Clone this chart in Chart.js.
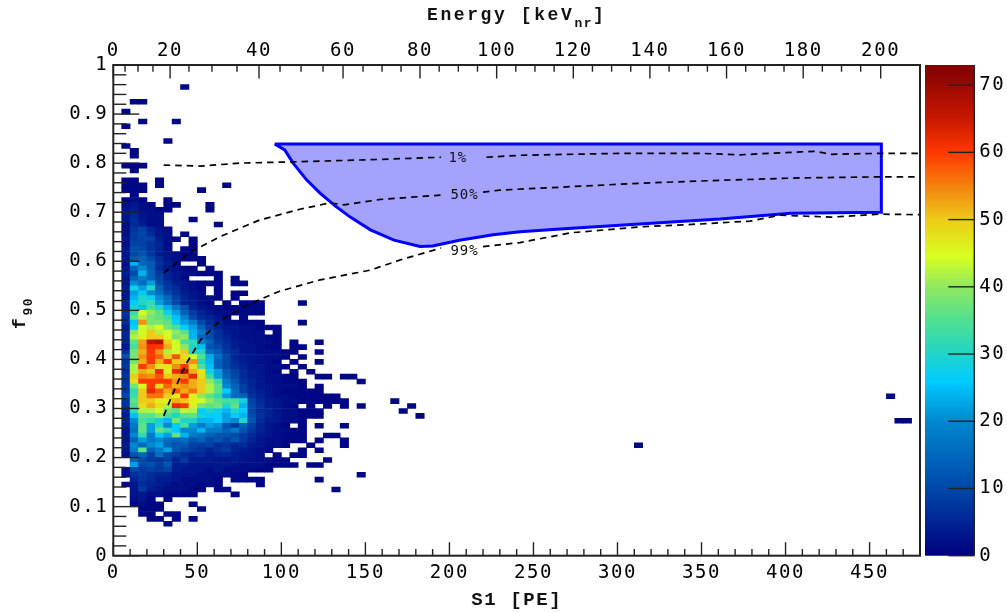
<!DOCTYPE html>
<html>
<head>
<meta charset="utf-8">
<title>f90 vs S1</title>
<script src="https://cdn.jsdelivr.net/npm/chart.js@4"></script>
<style>
  html, body { margin: 0; padding: 0; background: #fff; }
  canvas { position: absolute; left: 0; top: 0; filter: blur(0.45px); }
</style>
</head>
<body>
<canvas id="heat" width="1007" height="612"></canvas>
<canvas id="bar" width="1007" height="612"></canvas>
<script>
// lower edge of each f90 bin that has entries, top of the plot downwards
const fBins = [0.95,0.92,0.90,0.88,0.87,0.84,0.83,0.82,0.81,0.79,0.78,0.76,0.75,0.74,0.73,0.72,0.71,0.70,0.69,0.68,0.67,
  0.66,0.65,0.64,0.63,0.62,0.61,0.60,0.59,0.58,0.57,0.56,0.55,0.54,0.53,0.52,0.51,0.50,0.49,0.48,0.47,0.46,0.45,0.44,
  0.43,0.42,0.41,0.40,0.39,0.38,0.37,0.36,0.35,0.34,0.33,0.32,0.31,0.30,0.29,0.28,0.27,0.26,0.25,0.24,0.23,0.22,0.21,
  0.20,0.19,0.18,0.17,0.16,0.15,0.14,0.13,0.12,0.11,0.10,0.09,0.08,0.07,0.06];

// counts per row, first entry is the S1 bin 5-10 PE, then 5 PE steps
const binCounts = [
  [0,0,0,0,0,0,0,1],
  [0,1,1],
  [1],
  [0,0,1,0,0,0,1],
  [1],
  [0,0,0,0,0,1],
  [1],
  [0,1],
  [0,1],
  [1,1,1],
  [0,1],
  [1,1,0,0,1],
  [1,1,1,0,1,0,0,0,0,0,0,0,1],
  [1,1,1,0,0,0,0,0,0,1],
  [0,1],
  [1,2,1,0,0,1],
  [2,3,2,1,0,1,1,0,0,0,1],
  [3,4,2,2,1,1,0,0,0,0,1],
  [3,5,3,2,2],
  [3,6,3,2,2,0,0,0,1],
  [2,6,4,2,2,0,0,0,0,0,0,1],
  [2,7,9,5,3,2],
  [2,8,10,6,3,2,0,1],
  [3,8,9,9,4,2,1,0,1],
  [2,9,9,7,5,2,0,0,1],
  [3,11,10,7,5,2,0,1,1],
  [3,10,12,8,4,3,2,1,1],
  [3,12,14,10,6,3,2,1,1,1],
  [2,24,15,13,7,4,2,0,0,1],
  [3,14,20,13,6,3,2,1,1,0,1],
  [4,11,24,14,8,5,3,2,2,1,1,1],
  [3,14,18,14,9,5,3,1,0,0,0,1,0,1],
  [3,20,16,22,11,7,4,3,2,1,1,1,0,1,1],
  [4,28,22,30,14,8,6,3,2,1,0,1],
  [3,22,26,20,16,10,7,4,3,2,0,1,0,1,1],
  [3,24,30,27,20,15,9,5,3,2,2,1,0,1],
  [5,26,30,32,22,16,10,5,4,2,1,0,1,0,1,1,1,0,0,0,0,1],
  [5,30,25,34,30,23,17,11,5,3,2,2,1,1,1,1,1],
  [7,33,44,40,36,28,22,14,8,5,3,2,2,1,1,1,1],
  [6,36,42,38,36,33,25,19,10,6,5,3,1,0,1],
  [6,25,54,38,38,36,27,22,18,10,6,4,2,2,1,1,1,0,0,0,0,1],
  [4,27,44,42,45,38,34,26,22,14,8,5,3,3,2,2,1,1,1],
  [5,40,44,50,42,44,40,36,24,18,10,7,4,3,2,2,2,0,1],
  [5,42,46,50,50,45,38,40,24,14,11,7,5,3,2,2,2,1,1],
  [5,36,53,66,68,50,44,34,32,19,14,8,6,4,3,2,2,2,1,0,1,0,0,1],
  [3,34,54,61,60,52,44,40,30,25,12,10,7,4,3,3,2,1,1,0,1,1],
  [7,38,52,60,54,42,44,50,30,30,16,13,8,6,3,3,2,2,2,1,1,0,0,1],
  [11,38,54,60,57,50,58,48,44,35,23,16,10,5,4,3,3,2,2,1,0,1],
  [7,38,52,60,52,60,50,50,54,30,24,14,10,6,4,3,2,2,1,0,1,0,0,1],
  [8,42,60,54,47,47,54,60,48,35,25,14,10,7,5,3,3,2,2,1,0,1],
  [6,42,52,50,62,46,62,68,52,47,28,22,13,9,6,4,3,2,1,0,1,0,1],
  [7,50,55,54,58,50,52,54,62,48,33,22,14,10,6,4,3,2,2,1,1,0,0,1,1,0,1,1],
  [7,48,60,60,60,60,54,60,52,50,40,33,18,12,7,5,3,2,2,1,1,1,0,0,0,0,0,0,1],
  [8,38,45,60,48,57,52,54,52,50,42,36,20,14,9,5,3,3,2,2,2,1,0,1],
  [8,32,50,62,58,52,58,52,56,50,42,36,26,16,9,6,4,3,2,1,1,1,1,1],
  [10,33,50,56,56,50,46,60,46,40,36,32,22,16,14,7,5,3,2,2,1,1,1,1,1,1],
  [7,36,50,50,46,46,52,50,46,44,40,36,34,34,28,9,6,4,3,2,2,1,1,1,1,1,1],
  [7,34,48,52,48,42,62,60,46,38,36,38,30,36,24,10,7,4,3,2,1,0,1,0,1,0,1,0,1],
  [5,32,42,42,44,38,36,43,42,26,30,28,24,30,26,10,6,5,3,2,2,1,1,1],
  [4,25,36,36,40,34,30,36,36,28,26,26,22,26,24,11,7,5,3,2,2,1,1,1],
  [5,20,34,32,28,24,38,30,30,24,24,26,22,20,30,12,6,4,3,2,2,1],
  [4,18,36,22,30,20,26,34,22,18,22,20,12,8,14,9,5,3,2,1,0,1,0,1,0,0,1],
  [3,16,36,22,36,32,26,20,20,24,18,18,14,18,12,8,5,3,2,2,1,1],
  [3,20,32,18,26,22,36,24,18,16,14,12,12,10,8,6,4,3,2,1,1,1,0,0,1,1],
  [3,14,22,18,20,16,14,16,12,14,10,12,9,12,8,5,3,2,2,1,1,1,0,1,0,0,1],
  [4,20,15,20,22,14,12,12,9,8,9,6,7,5,6,4,3,2,2,1,0,0,1,0,0,0,1],
  [3,18,36,14,18,22,12,10,8,7,5,7,8,5,4,3,2,1,0,0,0,1,0,1],
  [2,12,14,9,16,10,8,6,5,6,4,5,5,4,3,3,2,0,1,0,1,1],
  [0,14,10,8,7,9,5,8,4,4,4,3,3,4,3,2,2,2,1,1,0,0,0,0,1],
  [0,22,10,11,8,12,4,4,3,3,3,3,3,3,2,2,2,1,1,1,1,0,1,1],
  [2,10,8,9,8,9,4,3,3,3,2,3,2,2,2,1,1,1],
  [2,7,8,6,5,5,3,3,3,2,2,2,2,1,1,0,0,0,0,0,0,0,0,0,0,0,0,0,1],
  [0,5,7,6,4,4,3,2,2,2,2,1,0,1,1,1,1,0,0,0,0,0,0,1],
  [1,3,6,5,4,3,2,2,2,1,2,1,0,0,0,0,1],
  [0,3,8,4,3,2,2,2,1,1,0,1,1,0,0,0,0,0,0,0,0,0,0,0,0,1],
  [0,3,3,2,2,1,1,1,1,0,0,0,0,1],
  [0,2,3,1,0,1],
  [0,1,2,1,1,0,0,0,1],
  [0,0,1,1,1,0,0,0,0,1],
  [0,0,1,1,0,1,1],
  [0,0,0,1,1,0,1,0,1],
  [0,0,0,0,0,1]
];

// isolated single entries at large S1 (lower bin edges)
const outlierS = [165,175,170,180,310,460,465,470];
const outlierF = [0.31,0.30,0.29,0.28,0.22,0.32,0.27,0.27];

// acceptance curves, null leaves room for the label
const curve1S = [30,52,75,111,153,195,208,222,242,302,349,373,409,418,427,456,480];
const curve1F = [0.796,0.794,0.80,0.803,0.807,0.812,null,0.812,0.816,0.82,0.82,0.817,0.823,0.824,0.818,0.82,0.82];
const curve50S = [30,46,64,87,111,129,137,159,195,208,220,230,266,313,361,409,456,480];
const curve50F = [0.576,0.619,0.651,0.684,0.706,0.719,0.715,0.726,0.735,null,0.741,0.745,0.751,0.759,0.765,0.77,0.772,0.772];
const curve99S = [30,35,43,52,64,81,99,123,153,171,195,208,220,242,272,313,349,379,397,427,456,480];
const curve99F = [0.285,0.327,0.389,0.44,0.48,0.513,0.539,0.562,0.582,0.603,0.627,null,0.63,0.638,0.658,0.67,0.676,0.682,0.694,0.69,0.696,0.695];

// blue acceptance region outline
const regionS = [96,102,107,115,123,132,141,153,167,182.5,190,206,226,242,266,313,361,403,457,457,96];
const regionF = [0.839,0.827,0.80,0.766,0.739,0.713,0.69,0.664,0.643,0.63,0.631,0.643,0.654,0.66,0.666,0.676,0.686,0.698,0.70,0.839,0.839];

// top axis: S1 position of every energy tick, every 5 keV
const energyTicksS = [0,7,14.7,23.6,33.8,45,58.7,73.6,86.7,99.2,111.7,124.8,136.7,148.6,159.9,171.2,182.5,193.9,205.3,
  216.7,228.1,239.5,250.9,262.3,273.7,285.1,296.5,307.9,319.3,330.7,342.1,353.5,364.9,376.3,387.7,399.1,410.5,421.9,
  433.3,444.7,456.6];
const energyLabels = ['0','20','40','60','80','100','120','140','160','180','200'];

const percentLabels = ['1%','50%','99%'];
const percentS = [205,209,209];
const percentF = [0.81,0.735,0.62];

// colour bar ticks and palette
const zTicks = [0,10,20,30,40,50,60,70];
const paletteZ = [0,10,20,26,30,35,40,44.5,50,54,60,65,73];
const paletteC = ['#000080','#0048a8','#0088d0','#00ccff','#20d4c8','#50e090','#90e860','#d8ff20','#eecb18','#f29010','#ff3800','#c81800','#800000'];

const tickFont = '"DejaVu Sans Mono"';
const titleFont = '"Liberation Mono"';
const ink = '#222';

function hexRgb(h) { return [1, 3, 5].map(p => parseInt(h.substr(p, 2), 16)); }

function zColor(z) {
  let j = 0;
  while (j < paletteZ.length - 2 && z > paletteZ[j + 1]) j++;
  const t = Math.min(1, (z - paletteZ[j]) / (paletteZ[j + 1] - paletteZ[j]));
  const a = hexRgb(paletteC[j]), b = hexRgb(paletteC[j + 1]);
  return 'rgb(' + a.map((v, n) => Math.round(v + (b[n] - v) * t)).join(',') + ')';
}

function pairs(xs, ys) { return xs.map((x, i) => ({ x: x, y: ys[i] })); }

// heatmap cells as floating bars
const cells = [], cellColors = [];
binCounts.forEach((row, r) => {
  row.forEach((n, i) => {
    if (n > 0) {
      cells.push({ x: 7.5 + 5 * i, y: [fBins[r], fBins[r] + 0.01] });
      cellColors.push(zColor(n));
    }
  });
});
outlierS.forEach((s, i) => {
  cells.push({ x: s + 2.5, y: [outlierF[i], outlierF[i] + 0.01] });
  cellColors.push(zColor(1));
});

function dashed(xs, ys) {
  return { type: 'line', data: pairs(xs, ys), borderColor: '#000', borderWidth: 1.7, borderDash: [6.5, 5], pointRadius: 0, fill: false, spanGaps: false, order: 0 };
}

function inwardTicks(ctx, scale, len, lenMinor, isMajor) {
  scale.ticks.forEach((t, i) => {
    const p = scale.getPixelForValue(t.value);
    const l = isMajor(t, i) ? len : lenMinor;
    ctx.beginPath();
    if (scale.axis === 'y') { ctx.moveTo(scale.right, p); ctx.lineTo(scale.right + l, p); }
    else if (scale.position === 'top') { ctx.moveTo(p, scale.bottom); ctx.lineTo(p, scale.bottom + l); }
    else { ctx.moveTo(p, scale.top); ctx.lineTo(p, scale.top - l); }
    ctx.stroke();
  });
}

function subText(ctx, x, y, main, sub, tail) {
  ctx.textAlign = 'left';
  ctx.textBaseline = 'alphabetic';
  ctx.font = 'bold 18px ' + titleFont;
  ctx.letterSpacing = '2.6px';
  ctx.fillText(main, x, y);
  let w = ctx.measureText(main).width;
  ctx.font = 'bold 13px ' + titleFont;
  ctx.letterSpacing = '1.5px';
  ctx.fillText(sub, x + w, y + 7);
  w += ctx.measureText(sub).width;
  if (tail) {
    ctx.font = 'bold 18px ' + titleFont;
    ctx.letterSpacing = '2.6px';
    ctx.fillText(tail, x + w, y);
  }
}

const decorate = {
  id: 'decorate',
  beforeDraw(chart) { chart.ctx.letterSpacing = '1.6px'; },
  afterDatasetsDraw(chart) {
    const ctx = chart.ctx, a = chart.chartArea, s = chart.scales;
    ctx.save();
    ctx.strokeStyle = ink;
    ctx.lineWidth = 1.4;
    inwardTicks(ctx, s.y, 26, 13, t => t.label !== '');
    inwardTicks(ctx, s.x, 13.5, 6.7, t => t.label !== '');
    inwardTicks(ctx, s.x2, 13.5, 6.7, t => t.label !== '');
    ctx.lineWidth = 2;
    ctx.strokeRect(a.left, a.top, a.right - a.left, a.bottom - a.top);
    ctx.fillStyle = '#111';
    ctx.font = '14px ' + tickFont;
    ctx.letterSpacing = '1px';
    ctx.textAlign = 'center';
    ctx.textBaseline = 'middle';
    percentLabels.forEach((t, i) => {
      ctx.fillText(t, s.x.getPixelForValue(percentS[i]), s.y.getPixelForValue(percentF[i]));
    });
    subText(ctx, 427, 20, 'Energy [keV', 'nr', ']');
    ctx.translate(25, 329);
    ctx.rotate(-Math.PI / 2);
    subText(ctx, 0, 0, 'f', '90');
    ctx.restore();
  }
};

new Chart(document.getElementById('heat'), {
  type: 'bar',
  data: {
    datasets: [
      dashed(curve1S, curve1F),
      dashed(curve50S, curve50F),
      dashed(curve99S, curve99F),
      { type: 'line', data: pairs(regionS, regionF), borderColor: '#0000ff', borderWidth: 3, backgroundColor: 'rgb(163,163,255)', fill: 'shape', pointRadius: 0, tension: 0, order: 1 },
      { type: 'bar', data: cells, backgroundColor: cellColors, borderWidth: 0, barPercentage: 1, categoryPercentage: 1, grouped: false, order: 2 }
    ]
  },
  plugins: [decorate],
  options: {
    responsive: false,
    animation: false,
    layout: { padding: { right: 87 } },
    plugins: { legend: { display: false }, tooltip: { enabled: false } },
    scales: {
      x: {
        type: 'linear', position: 'bottom', min: 0, max: 480, offset: false,
        grid: { display: false, offset: false, drawTicks: false },
        border: { display: false },
        afterFit: s => { s.height = 56.3; },
        afterBuildTicks: s => { s.ticks = s.ticks.filter(t => t.value <= 480); },
        ticks: {
          stepSize: 10, autoSkip: false, maxRotation: 0, padding: 6,
          color: '#000', font: { family: tickFont, size: 19 },
          callback: v => (v % 50 === 0 ? String(v) : '')
        },
        title: { display: true, text: 'S1 [PE]', color: '#111', font: { family: titleFont, size: 19, weight: 'bold' }, padding: { top: 0, bottom: 0 } }
      },
      x2: {
        type: 'linear', position: 'top', min: 0, max: 480, offset: false,
        grid: { display: false, drawTicks: false },
        border: { display: false },
        afterFit: s => { s.height = 65; },
        afterBuildTicks: s => { s.ticks = energyTicksS.map(v => ({ value: v })); },
        ticks: {
          autoSkip: false, maxRotation: 0, padding: 3,
          color: '#000', font: { family: tickFont, size: 19 },
          callback: (v, i) => (i % 4 === 0 ? energyLabels[i / 4] : '')
        }
      },
      y: {
        type: 'linear', min: 0, max: 1,
        grid: { display: false, drawTicks: false },
        border: { display: false },
        afterFit: s => { s.width = 113.3; },
        ticks: {
          stepSize: 0.02, autoSkip: false, padding: 5,
          color: '#000', font: { family: tickFont, size: 19 },
          callback: v => {
            const c = Math.round(v * 100);
            if (c % 10 !== 0) return '';
            return c === 0 ? '0' : c === 100 ? '1' : (c / 100).toFixed(1);
          }
        }
      }
    }
  }
});

// colour bar, laid over the main canvas
const barDecorate = {
  id: 'barDecorate',
  beforeDraw(chart) { chart.ctx.letterSpacing = '1.6px'; },
  afterDatasetsDraw(chart) {
    const ctx = chart.ctx, a = chart.chartArea, s = chart.scales.y;
    ctx.save();
    ctx.strokeStyle = ink;
    ctx.lineWidth = 1.4;
    s.ticks.forEach(t => {
      const p = s.getPixelForValue(t.value);
      ctx.beginPath();
      ctx.moveTo(a.right, p);
      ctx.lineTo(a.right - 26, p);
      ctx.stroke();
    });
    ctx.beginPath();
    ctx.moveTo(a.right, a.top);
    ctx.lineTo(a.right, a.bottom);
    ctx.stroke();
    ctx.restore();
  }
};

new Chart(document.getElementById('bar'), {
  type: 'bar',
  data: {
    labels: ['counts'],
    datasets: [{
      data: [[0, 73]],
      barPercentage: 1,
      categoryPercentage: 1,
      backgroundColor: c => {
        const a = c.chart.chartArea;
        if (!a) return paletteC[0];
        const g = c.chart.ctx.createLinearGradient(0, a.bottom, 0, a.top);
        paletteZ.forEach((z, i) => g.addColorStop(z / 73, paletteC[i]));
        return g;
      }
    }]
  },
  plugins: [barDecorate],
  options: {
    responsive: false,
    animation: false,
    layout: { padding: { left: 925, top: 65, bottom: 56.3 } },
    plugins: { legend: { display: false }, tooltip: { enabled: false } },
    scales: {
      x: { display: false },
      y: {
        position: 'right', min: 0, max: 73,
        grid: { display: false, drawTicks: false },
        border: { display: false },
        afterFit: s => { s.width = 32.7; },
        afterBuildTicks: s => { s.ticks = zTicks.map(v => ({ value: v })); },
        ticks: { autoSkip: false, padding: 5, color: '#000', font: { family: tickFont, size: 19 } }
      }
    }
  }
});
</script>
</body>
</html>
